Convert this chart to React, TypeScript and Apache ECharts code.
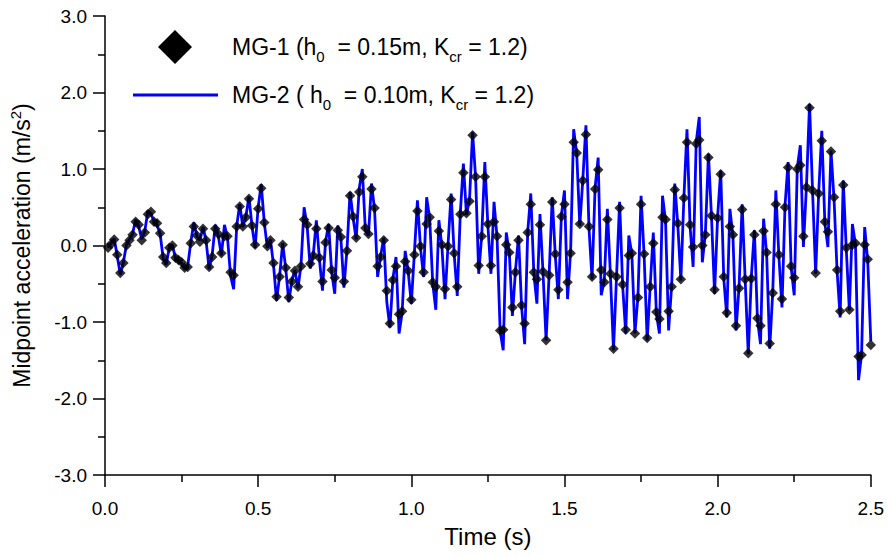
import React, { useEffect, useRef } from "react";
import * as echarts from "echarts";

// Sample step of both records (s); first sample at 0.01 s
const timeStep = 0.01;

// MG-1 (h0 = 0.15m, Kcr = 1.2) — diamonds
const mg1Values = [
  -0.03, 0.02, 0.08, -0.12, -0.36, -0.23, 0.0, 0.07, 0.14, 0.31,
  0.27, 0.07, 0.17, 0.41, 0.44, 0.31, 0.29, 0.16, -0.15, -0.23,
  -0.03, 0.0, -0.16, -0.19, -0.22, -0.29, -0.28, 0.03, 0.25, 0.13,
  0.05, 0.22, 0.07, -0.28, -0.15, 0.22, 0.15, -0.1, 0.12, 0.12,
  -0.35, -0.39, 0.25, 0.51, 0.25, 0.37, 0.61, 0.26, 0.01, 0.48,
  0.75, 0.3, -0.01, 0.07, -0.23, -0.67, -0.41, 0.01, -0.29, -0.68,
  -0.47, -0.33, -0.54, -0.27, 0.34, 0.27, -0.24, -0.13, 0.22, -0.16,
  -0.47, 0.04, 0.23, -0.32, -0.42, 0.2, 0.11, -0.47, -0.07, 0.65,
  0.38, 0.1, 0.7, 0.9, 0.23, 0.15, 0.74, 0.49, -0.27, -0.15,
  0.07, -0.59, -1.02, -0.45, -0.27, -0.9, -0.86, -0.21, -0.33, -0.71,
  -0.12, 0.45, -0.01, -0.35, 0.28, 0.37, -0.48, -0.54, 0.19, 0.01,
  -0.57, -0.01, 0.6, -0.1, -0.54, 0.41, 0.95, 0.42, 0.58, 1.44,
  0.9, -0.26, 0.12, 0.9, 0.28, -0.26, 0.31, 0.12, -1.11, -1.1,
  0.01, -0.09, -0.81, -0.35, 0.07, -0.78, -1.02, 0.17, 0.54, -0.35,
  -0.44, 0.27, -0.34, -1.24, -0.39, 0.57, -0.11, -0.58, 0.38, 0.54,
  -0.48, -0.1, 1.35, 1.21, 0.28, 0.85, 1.45, 0.25, -0.41, 0.74,
  0.99, -0.32, -0.48, 0.34, -0.37, -1.35, -0.41, 0.49, -0.51, -1.1,
  -0.13, -0.1, -1.15, -0.68, 0.54, -0.11, -1.21, -0.54, 0.03, -0.87,
  -0.96, 0.37, 0.34, -0.86, -0.54, 0.73, 0.29, -0.44, 0.62, 1.35,
  0.27, -0.02, 1.33, 1.38, 0.0, 0.14, 1.15, 0.39, -0.58, 0.36,
  0.93, -0.41, -0.88, 0.25, 0.14, -1.05, -0.56, 0.47, -0.44, -1.41,
  -0.43, 0.14, -0.95, -1.05, 0.19, -0.09, -1.28, -0.62, 0.54, -0.12,
  -0.7, 0.5, 1.02, -0.27, -0.42, 1.0, 1.05, 0.12, 0.76, 1.8,
  0.72, -0.36, 0.68, 1.37, 0.31, 0.18, 1.23, 0.63, -0.32, -0.86,
  0.79, -0.03, -0.84, 0.01, 0.03, -1.45, -1.43, 0.01, -0.18, -1.3,
];

// MG-2 (h0 = 0.10m, Kcr = 1.2) — blue line
const mg2Values = [
  -0.03, 0.03, 0.09, -0.14, -0.38, -0.22, 0.01, 0.08, 0.15, 0.34,
  0.25, 0.08, 0.19, 0.45, 0.42, 0.31, 0.27, 0.15, -0.17, -0.25,
  -0.02, 0.01, -0.17, -0.2, -0.23, -0.31, -0.27, 0.04, 0.3, 0.12,
  0.07, 0.24, 0.06, -0.31, -0.12, 0.27, 0.12, -0.13, 0.27, 0.1,
  -0.4, -0.57, 0.26, 0.54, 0.24, 0.38, 0.64, 0.25, -0.03, 0.5,
  0.8, 0.3, -0.03, 0.08, -0.25, -0.72, -0.4, 0.03, -0.3, -0.74,
  -0.46, -0.32, -0.56, -0.25, 0.5, 0.25, -0.3, -0.12, 0.33, -0.18,
  -0.59, 0.05, 0.28, -0.35, -0.63, 0.26, 0.1, -0.55, -0.05, 0.7,
  0.36, 0.08, 0.75, 1.0, 0.2, 0.13, 0.81, 0.47, -0.41, -0.13,
  0.1, -0.74, -1.07, -0.43, -0.15, -1.15, -0.88, -0.07, -0.35, -0.76,
  -0.1, 0.59, -0.03, -0.41, 0.63, 0.35, -0.5, -0.84, 0.33, -0.02,
  -0.7, 0.02, 0.68, -0.12, -0.66, 0.43, 1.07, 0.4, 0.6, 1.48,
  0.88, -0.37, 0.14, 1.09, 0.26, -0.37, 0.57, 0.1, -1.12, -1.37,
  0.17, -0.1, -0.92, -0.33, 0.13, -0.8, -1.29, 0.18, 0.68, -0.37,
  -0.76, 0.41, -0.36, -1.24, -0.37, 0.63, -0.13, -0.7, 0.4, 0.72,
  -0.7, -0.08, 1.52, 1.2, 0.26, 0.87, 1.57, 0.23, -0.44, 0.76,
  1.15, -0.65, -0.46, 0.48, -0.39, -1.37, -0.4, 0.57, -0.53, -1.15,
  0.13, -0.11, -1.15, -0.66, 0.65, -0.13, -1.24, -0.52, 0.17, -0.89,
  -1.15, 0.65, 0.32, -1.11, -0.52, 0.81, 0.27, -0.46, 0.64, 1.52,
  0.25, -0.28, 1.35, 1.68, -0.22, 0.16, 1.2, 0.37, -0.63, 0.38,
  0.98, -0.43, -0.94, 0.48, 0.12, -1.11, -0.54, 0.54, -0.46, -1.42,
  -0.41, 0.2, -0.97, -1.29, 0.35, -0.11, -1.35, -0.6, 0.72, -0.14,
  -0.81, 0.52, 1.09, -0.29, -0.65, 1.02, 1.31, -0.02, 0.78, 1.85,
  0.7, -0.37, 0.7, 1.5, 0.29, -0.02, 1.24, 0.61, -0.34, -0.94,
  0.85, -0.05, -0.85, 0.28, 0.01, -1.76, -1.42, 0.24, -0.2, -1.25,
];

const xTickLabels = ["0.0", "0.5", "1.0", "1.5", "2.0", "2.5"];
const yTickLabels = ["-3.0", "-2.0", "-1.0", "0.0", "1.0", "2.0", "3.0"];

const seriesNames = ["MG-1", "MG-2"];

const FONT = "'Liberation Sans', Arial, Helvetica, sans-serif";

function toPairs(values: number[]): [number, number][] {
  return values.map((v, i) => [+(timeStep * (i + 1)).toFixed(2), v]);
}

export default function App() {
  const ref = useRef<HTMLDivElement>(null);

  useEffect(() => {
    if (!ref.current) return;
    const chart = echarts.init(ref.current, null, { renderer: "svg" });

    const axisCommon = {
      axisLine: { show: true, onZero: false, lineStyle: { color: "#000", width: 1.5 } },
      axisTick: { show: true, length: 12, lineStyle: { color: "#000", width: 1.5 } },
      minorTick: { show: true, splitNumber: 2, length: 7, lineStyle: { color: "#000", width: 1.5 } },
      splitLine: { show: false },
      minorSplitLine: { show: false },
    };

    const legendRich = {
      sub: { fontSize: 15, fontFamily: FONT, fill: "#000", verticalAlign: "middle", padding: [18, 0, 0, 0] },
    };

    chart.setOption({
      animation: false,
      backgroundColor: "#ffffff",
      grid: { left: 104, right: 14, top: 16, bottom: 81, containLabel: false },
      xAxis: {
        type: "value",
        min: 0,
        max: 2.5,
        interval: 0.5,
        ...axisCommon,
        axisLabel: {
          color: "#000",
          fontSize: 19,
          fontFamily: FONT,
          margin: 24,
          formatter: (v: number) => xTickLabels[Math.round(v / 0.5)] ?? v.toFixed(1),
        },
        name: "Time (s)",
        nameLocation: "middle",
        nameGap: 49,
        nameTextStyle: { color: "#000", fontSize: 24, fontFamily: FONT },
      },
      yAxis: {
        type: "value",
        min: -3,
        max: 3,
        interval: 1,
        ...axisCommon,
        axisLabel: {
          color: "#000",
          fontSize: 19,
          fontFamily: FONT,
          margin: 18,
          formatter: (v: number) => yTickLabels[Math.round(v + 3)] ?? v.toFixed(1),
        },
        name: "Midpoint acceleration (m/s{sup|2})",
        nameLocation: "middle",
        nameRotate: 90,
        nameGap: 70,
        nameTextStyle: {
          color: "#000",
          fontSize: 23,
          fontFamily: FONT,
          rich: {
            sup: { fontSize: 15, fontFamily: FONT, color: "#000", verticalAlign: "bottom", padding: [0, 0, 12, 0] },
          },
        },
      },
      graphic: [
        {
          type: "polygon",
          shape: { points: [[175, 30], [192, 47], [175, 64], [158, 47]] },
          style: { fill: "#000" },
          silent: true,
        },
        {
          type: "text",
          x: 232,
          y: 47,
          style: {
            text: "MG-1 (h{sub|0}  = 0.15m, K{sub|cr} = 1.2)",
            fill: "#000",
            fontSize: 23,
            fontFamily: FONT,
            verticalAlign: "middle",
            rich: legendRich,
          },
        },
        {
          type: "line",
          shape: { x1: 133, y1: 95, x2: 218, y2: 95 },
          style: { stroke: "#0000ff", lineWidth: 3 },
          silent: true,
        },
        {
          type: "text",
          x: 232,
          y: 95,
          style: {
            text: "MG-2 ( h{sub|0}  = 0.10m, K{sub|cr} = 1.2)",
            fill: "#000",
            fontSize: 23,
            fontFamily: FONT,
            verticalAlign: "middle",
            rich: legendRich,
          },
        },
      ],
      series: [
        {
          name: seriesNames[1],
          type: "line",
          data: toPairs(mg2Values),
          showSymbol: false,
          symbol: "none",
          lineStyle: { color: "#0000ff", width: 2.8 },
          z: 2,
        },
        {
          name: seriesNames[0],
          type: "scatter",
          data: toPairs(mg1Values),
          symbol: "diamond",
          symbolSize: 10.5,
          itemStyle: { color: "#000" },
          z: 3,
        },
      ],
    });

    return () => chart.dispose();
  }, []);

  return (
    <div
      ref={ref}
      style={{ position: "fixed", left: 0, top: 0, width: 887, height: 556, background: "#fff" }}
    />
  );
}
